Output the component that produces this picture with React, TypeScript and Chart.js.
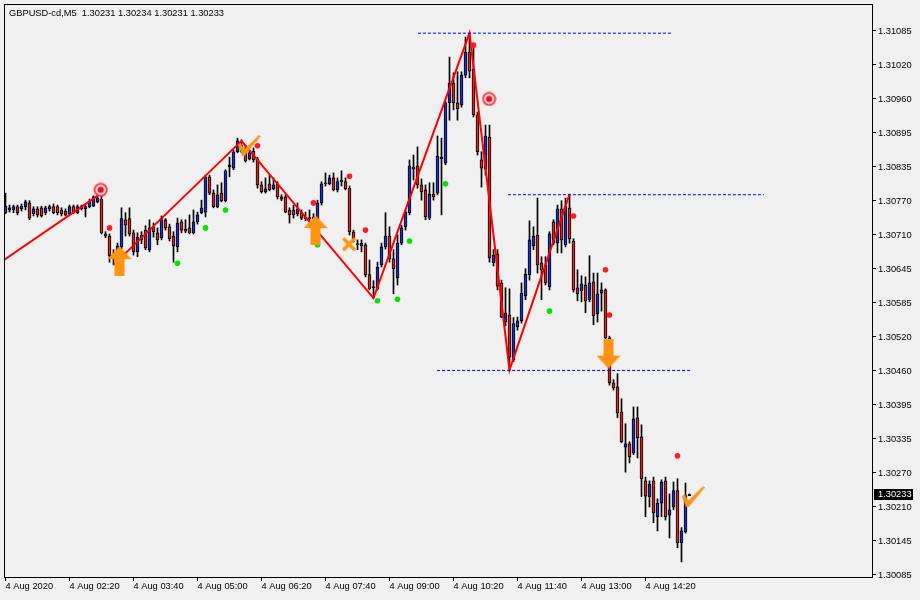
import React, { useEffect, useRef } from 'react';
import { Chart, registerables } from 'chart.js';

Chart.register(...registerables);

const symbolLabel = 'GBPUSD-cd,M5';

const xTickBars = [0, 16, 32, 48, 64, 80, 96, 112, 128, 144, 160];
const xTickLabels = ['4 Aug 2020', '4 Aug 02:20', '4 Aug 03:40', '4 Aug 05:00', '4 Aug 06:20', '4 Aug 07:40', '4 Aug 09:00', '4 Aug 10:20', '4 Aug 11:40', '4 Aug 13:00', '4 Aug 14:20'];
const yTickLabels = ['1.30085', '1.30145', '1.30210', '1.30270', '1.30335', '1.30395', '1.30460', '1.30520', '1.30585', '1.30645', '1.30710', '1.30770', '1.30835', '1.30895', '1.30960', '1.31020', '1.31085'];

const opens = [
  1.30751, 1.30760, 1.30756, 1.30762, 1.30758, 1.30762, 1.30769, 1.30749, 1.30758, 1.30760, 1.30751, 1.30758,
  1.30762, 1.30762, 1.30756, 1.30754, 1.30749, 1.30762, 1.30751, 1.30762, 1.30758, 1.30762, 1.30763, 1.30771,
  1.30776, 1.30712, 1.30708, 1.30672, 1.30679, 1.30688, 1.30738, 1.30740, 1.30714, 1.30679, 1.30701, 1.30719,
  1.30683, 1.30725, 1.30714, 1.30705, 1.30738, 1.30725, 1.30708, 1.30688, 1.30734, 1.30721, 1.30723, 1.30714,
  1.30734, 1.30751, 1.30752, 1.30817, 1.30787, 1.30762, 1.30787, 1.30773, 1.30835, 1.30833, 1.30863, 1.30875,
  1.30866, 1.30850, 1.30864, 1.30850, 1.30802, 1.30789, 1.30804, 1.30795, 1.30804, 1.30780, 1.30780, 1.30756,
  1.30756, 1.30749, 1.30751, 1.30740, 1.30741, 1.30734, 1.30734, 1.30769, 1.30804, 1.30804, 1.30815, 1.30793,
  1.30808, 1.30808, 1.30796, 1.30716, 1.30694, 1.30690, 1.30692, 1.30637, 1.30613, 1.30611, 1.30655, 1.30688,
  1.30708, 1.30666, 1.30631, 1.30695, 1.30725, 1.30751, 1.30835, 1.30837, 1.30802, 1.30793, 1.30741, 1.30785,
  1.30787, 1.30853, 1.30842, 1.30953, 1.30989, 1.30953, 1.30949, 1.31004, 1.31046, 1.31015, 1.30931, 1.30848,
  1.30831, 1.30890, 1.30659, 1.30675, 1.30622, 1.30550, 1.30563, 1.30480, 1.30541, 1.30552, 1.30598, 1.30637,
  1.30690, 1.30710, 1.30659, 1.30655, 1.30615, 1.30734, 1.30695, 1.30758, 1.30692, 1.30760, 1.30699, 1.30613,
  1.30607, 1.30618, 1.30591, 1.30624, 1.30565, 1.30603, 1.30609, 1.30521, 1.30438, 1.30431, 1.30385, 1.30320,
  1.30326, 1.30309, 1.30374, 1.30339, 1.30258, 1.30229, 1.30258, 1.30192, 1.30217, 1.30258, 1.30195, 1.30210,
  1.30240, 1.30144, 1.30164, 1.30231,
];
const highs = [
  1.30787, 1.30765, 1.30765, 1.30765, 1.30767, 1.30774, 1.30773, 1.30762, 1.30762, 1.30763, 1.30763, 1.30765,
  1.30767, 1.30765, 1.30760, 1.30758, 1.30765, 1.30765, 1.30765, 1.30765, 1.30765, 1.30776, 1.30782, 1.30784,
  1.30787, 1.30716, 1.30712, 1.30683, 1.30695, 1.30760, 1.30751, 1.30760, 1.30719, 1.30714, 1.30716, 1.30727,
  1.30738, 1.30732, 1.30723, 1.30745, 1.30740, 1.30730, 1.30716, 1.30741, 1.30738, 1.30738, 1.30747, 1.30756,
  1.30752, 1.30774, 1.30820, 1.30820, 1.30793, 1.30802, 1.30806, 1.30830, 1.30853, 1.30866, 1.30888, 1.30885,
  1.30875, 1.30866, 1.30870, 1.30853, 1.30808, 1.30815, 1.30820, 1.30815, 1.30808, 1.30784, 1.30784, 1.30760,
  1.30765, 1.30769, 1.30756, 1.30752, 1.30756, 1.30749, 1.30774, 1.30808, 1.30824, 1.30820, 1.30824, 1.30815,
  1.30828, 1.30815, 1.30800, 1.30719, 1.30701, 1.30701, 1.30695, 1.30664, 1.30626, 1.30660, 1.30695, 1.30751,
  1.30725, 1.30683, 1.30710, 1.30728, 1.30756, 1.30848, 1.30857, 1.30872, 1.30813, 1.30802, 1.30806, 1.30806,
  1.30892, 1.30888, 1.30956, 1.31037, 1.31008, 1.31010, 1.31010, 1.31074, 1.31081, 1.31059, 1.30936, 1.30863,
  1.30912, 1.30912, 1.30683, 1.30683, 1.30627, 1.30613, 1.30611, 1.30558, 1.30559, 1.30622, 1.30648, 1.30736,
  1.30725, 1.30778, 1.30670, 1.30670, 1.30716, 1.30738, 1.30765, 1.30773, 1.30778, 1.30785, 1.30703, 1.30646,
  1.30635, 1.30633, 1.30672, 1.30640, 1.30640, 1.30622, 1.30611, 1.30524, 1.30444, 1.30455, 1.30409, 1.30363,
  1.30330, 1.30394, 1.30394, 1.30361, 1.30265, 1.30258, 1.30265, 1.30225, 1.30260, 1.30265, 1.30234, 1.30256,
  1.30262, 1.30172, 1.30254, 1.30234,
];
const lows = [
  1.30749, 1.30752, 1.30751, 1.30747, 1.30754, 1.30756, 1.30738, 1.30745, 1.30743, 1.30743, 1.30747, 1.30754,
  1.30749, 1.30747, 1.30745, 1.30745, 1.30747, 1.30749, 1.30749, 1.30756, 1.30743, 1.30760, 1.30762, 1.30769,
  1.30712, 1.30705, 1.30660, 1.30655, 1.30668, 1.30684, 1.30708, 1.30708, 1.30673, 1.30670, 1.30694, 1.30683,
  1.30679, 1.30706, 1.30692, 1.30701, 1.30719, 1.30699, 1.30660, 1.30679, 1.30714, 1.30714, 1.30712, 1.30712,
  1.30730, 1.30749, 1.30743, 1.30784, 1.30760, 1.30760, 1.30771, 1.30771, 1.30817, 1.30830, 1.30861, 1.30861,
  1.30844, 1.30848, 1.30844, 1.30796, 1.30787, 1.30787, 1.30791, 1.30793, 1.30776, 1.30773, 1.30751, 1.30732,
  1.30741, 1.30745, 1.30738, 1.30736, 1.30734, 1.30727, 1.30694, 1.30765, 1.30800, 1.30802, 1.30791, 1.30789,
  1.30800, 1.30793, 1.30710, 1.30697, 1.30683, 1.30679, 1.30633, 1.30609, 1.30594, 1.30609, 1.30651, 1.30684,
  1.30660, 1.30602, 1.30618, 1.30692, 1.30719, 1.30747, 1.30811, 1.30796, 1.30774, 1.30738, 1.30738, 1.30774,
  1.30784, 1.30747, 1.30839, 1.30921, 1.30940, 1.30921, 1.30945, 1.30999, 1.30999, 1.30927, 1.30857, 1.30798,
  1.30820, 1.30660, 1.30653, 1.30609, 1.30558, 1.30543, 1.30462, 1.30477, 1.30535, 1.30548, 1.30591, 1.30627,
  1.30683, 1.30640, 1.30591, 1.30618, 1.30609, 1.30692, 1.30677, 1.30677, 1.30688, 1.30695, 1.30605, 1.30589,
  1.30587, 1.30567, 1.30587, 1.30545, 1.30550, 1.30570, 1.30517, 1.30434, 1.30425, 1.30374, 1.30328, 1.30274,
  1.30291, 1.30306, 1.30300, 1.30229, 1.30192, 1.30210, 1.30181, 1.30166, 1.30192, 1.30186, 1.30153, 1.30205,
  1.30135, 1.30109, 1.30162, 1.30231,
];
const closes = [
  1.30763, 1.30756, 1.30762, 1.30751, 1.30763, 1.30771, 1.30741, 1.30758, 1.30747, 1.30745, 1.30760, 1.30762,
  1.30751, 1.30751, 1.30749, 1.30747, 1.30762, 1.30751, 1.30762, 1.30758, 1.30762, 1.30771, 1.30780, 1.30778,
  1.30714, 1.30708, 1.30672, 1.30668, 1.30690, 1.30740, 1.30728, 1.30712, 1.30679, 1.30706, 1.30710, 1.30686,
  1.30723, 1.30716, 1.30701, 1.30741, 1.30723, 1.30703, 1.30690, 1.30732, 1.30719, 1.30717, 1.30714, 1.30734,
  1.30747, 1.30760, 1.30817, 1.30787, 1.30762, 1.30784, 1.30773, 1.30828, 1.30839, 1.30863, 1.30883, 1.30863,
  1.30846, 1.30861, 1.30848, 1.30802, 1.30789, 1.30795, 1.30793, 1.30802, 1.30780, 1.30776, 1.30752, 1.30747,
  1.30747, 1.30758, 1.30741, 1.30743, 1.30740, 1.30743, 1.30769, 1.30804, 1.30806, 1.30815, 1.30793, 1.30808,
  1.30811, 1.30795, 1.30716, 1.30703, 1.30692, 1.30695, 1.30637, 1.30611, 1.30615, 1.30651, 1.30688, 1.30708,
  1.30666, 1.30648, 1.30695, 1.30723, 1.30752, 1.30837, 1.30831, 1.30802, 1.30789, 1.30743, 1.30785, 1.30780,
  1.30855, 1.30850, 1.30953, 1.30989, 1.30953, 1.30942, 1.31004, 1.31046, 1.31011, 1.30931, 1.30863, 1.30833,
  1.30892, 1.30668, 1.30673, 1.30616, 1.30559, 1.30567, 1.30486, 1.30547, 1.30552, 1.30603, 1.30638, 1.30701,
  1.30708, 1.30655, 1.30646, 1.30622, 1.30712, 1.30695, 1.30758, 1.30701, 1.30762, 1.30703, 1.30609, 1.30602,
  1.30620, 1.30589, 1.30622, 1.30561, 1.30602, 1.30609, 1.30521, 1.30438, 1.30429, 1.30383, 1.30330, 1.30326,
  1.30302, 1.30372, 1.30337, 1.30262, 1.30230, 1.30252, 1.30199, 1.30217, 1.30256, 1.30192, 1.30205, 1.30240,
  1.30144, 1.30166, 1.30231, 1.30233,
];

const zigzagBars = [-0.375, 24, 25.5, 27, 59, 92, 116, 126, 141];
const zigzagPrices = [1.30664, 1.30787, null, 1.30655, 1.30883, 1.30594, 1.31081, 1.30462, 1.30785];

const levelPrices = [1.31081, 1.30784, 1.30461];
const levelFrom = [103.1, 125.6, 107.9];
const levelTo = [166.6, 189.6, 171.6];

const redDotBars = [26, 63, 77, 86, 90, 117, 142, 150, 151, 168];
const redDotPrices = [1.30723, 1.30874, 1.30769, 1.30818, 1.30719, 1.31059, 1.30745, 1.30646, 1.30563, 1.30304];
const greenDotBars = [43, 50, 55, 78, 93, 98, 101, 110, 136];
const greenDotPrices = [1.30658, 1.30723, 1.30756, 1.30692, 1.30589, 1.30592, 1.30699, 1.30804, 1.30570];

const upArrowBars = [28.5, 77.5];
const upArrowPrices = [1.30662, 1.30719];
const downArrowBars = [150.75];
const downArrowPrices = [1.30492];
const checkBars = [60.9, 171.9];
const checkPrices = [1.30875, 1.30229];
const crossBars = [85.9];
const crossPrices = [1.30693];
const targetBars = [23.8, 120.9];
const targetPrices = [1.30793, 1.30960];

const BG = '#f0f0f0';
const BULL = '#2230c4';
const BEAR = '#d42a20';
const ORANGE = '#ff9410';
const FONT = '"Liberation Sans", Arial, sans-serif';

function makeIcon(w: number, h: number, draw: (ctx: CanvasRenderingContext2D) => void) {
  const c = document.createElement('canvas');
  c.width = w;
  c.height = h;
  const ctx = c.getContext('2d') as CanvasRenderingContext2D;
  draw(ctx);
  return c;
}

function pts(xs: number[], ys: (number | null)[]) {
  return xs.map((x, k) => ({ x, y: ys[k] }));
}

export default function App() {
  const ref = useRef<HTMLCanvasElement | null>(null);

  useEffect(() => {
    const canvas = ref.current;
    if (!canvas) return;

    const upArrow = makeIcon(24, 30, (ctx) => {
      ctx.fillStyle = ORANGE;
      ctx.beginPath();
      ctx.moveTo(12, 0);
      ctx.lineTo(24, 13);
      ctx.lineTo(17, 13);
      ctx.lineTo(17, 30);
      ctx.lineTo(7, 30);
      ctx.lineTo(7, 13);
      ctx.lineTo(0, 13);
      ctx.closePath();
      ctx.fill();
    });
    const downArrow = makeIcon(24, 30, (ctx) => {
      ctx.fillStyle = ORANGE;
      ctx.beginPath();
      ctx.moveTo(12, 30);
      ctx.lineTo(24, 17);
      ctx.lineTo(17, 17);
      ctx.lineTo(17, 0);
      ctx.lineTo(7, 0);
      ctx.lineTo(7, 17);
      ctx.lineTo(0, 17);
      ctx.closePath();
      ctx.fill();
    });
    const check = makeIcon(23, 21, (ctx) => {
      ctx.fillStyle = '#f7941d';
      ctx.beginPath();
      ctx.moveTo(0, 10);
      ctx.lineTo(3.5, 8.5);
      ctx.lineTo(6.5, 14.5);
      ctx.lineTo(21.5, 0);
      ctx.lineTo(23, 1.5);
      ctx.lineTo(7, 21);
      ctx.lineTo(4.5, 21);
      ctx.closePath();
      ctx.fill();
    });
    const cross = makeIcon(16, 16, (ctx) => {
      ctx.strokeStyle = ORANGE;
      ctx.lineWidth = 3.5;
      ctx.lineCap = 'round';
      ctx.beginPath();
      ctx.moveTo(3, 3);
      ctx.lineTo(13, 13);
      ctx.moveTo(13, 3);
      ctx.lineTo(3, 13);
      ctx.stroke();
    });
    const target = makeIcon(15, 15, (ctx) => {
      ctx.fillStyle = '#ff3348';
      ctx.beginPath();
      ctx.arc(7.5, 7.5, 7, 0, Math.PI * 2);
      ctx.fill();
      ctx.fillStyle = '#ffffff';
      ctx.beginPath();
      ctx.arc(7.5, 7.5, 5, 0, Math.PI * 2);
      ctx.fill();
      ctx.fillStyle = '#e8101a';
      ctx.beginPath();
      ctx.arc(7.5, 7.5, 3.2, 0, Math.PI * 2);
      ctx.fill();
    });

    const idx = opens.map((_, i) => i);
    const last = opens.length - 1;
    const f5 = (v: number) => v.toFixed(5);
    const header = `${symbolLabel}  ${f5(opens[last])} ${f5(highs[last])} ${f5(lows[last])} ${f5(closes[last])}`;

    const yTickValues = yTickLabels.map((_, k) => 1.30085 + k * 0.000625);

    const levelData: { x: number; y: number | null }[] = [];
    levelPrices.forEach((p, k) => {
      levelData.push({ x: levelFrom[k], y: p });
      levelData.push({ x: levelTo[k], y: p });
      levelData.push({ x: levelTo[k] + 0.1, y: null });
    });

    const mt4Plugin = {
      id: 'mt4look',
      beforeDraw(chart: any) {
        const { ctx, width, height } = chart;
        ctx.save();
        ctx.fillStyle = BG;
        ctx.fillRect(0, 0, width, height);
        ctx.restore();
      },
      afterDraw(chart: any) {
        const { ctx, chartArea: a, scales } = chart;
        ctx.save();
        ctx.strokeStyle = '#000';
        ctx.lineWidth = 1;
        ctx.strokeRect(a.left + 0.5, a.top + 0.5, a.right - a.left, a.bottom - a.top);
        ctx.font = `9.3px ${FONT}`;
        ctx.fillStyle = '#000';
        ctx.textAlign = 'left';
        ctx.textBaseline = 'alphabetic';
        ctx.fillText(header, 9, 16);
        const lc = closes[last];
        const y = Math.round(scales.y.getPixelForValue(lc));
        ctx.fillStyle = '#000';
        ctx.fillRect(a.right + 2, y - 5, 39, 11);
        ctx.fillStyle = '#fff';
        ctx.textBaseline = 'middle';
        ctx.fillText(f5(lc), a.right + 6, y + 0.5);
        ctx.restore();
      },
    };

    const tickFont = { family: FONT, size: 9.3 };

    const chart = new Chart(canvas, {
      type: 'bar',
      data: {
        datasets: [
          {
            type: 'bar',
            label: 'wicks',
            data: idx.map((i) => ({ x: i, y: [lows[i], highs[i]] })) as any,
            backgroundColor: '#000',
            borderWidth: 0,
            barThickness: 1,
            grouped: false,
            order: 10,
          } as any,
          {
            type: 'bar',
            label: 'bodies',
            data: idx.map((i) => ({ x: i, y: [opens[i], closes[i]] })) as any,
            backgroundColor: idx.map((i) => (closes[i] >= opens[i] ? BULL : BEAR)),
            borderColor: '#000',
            borderWidth: 1,
            borderSkipped: false,
            barThickness: 3,
            minBarLength: 1,
            grouped: false,
            order: 9,
          } as any,
          {
            type: 'line',
            label: 'zigzag',
            data: pts(zigzagBars, zigzagPrices) as any,
            borderColor: '#ff0000',
            borderWidth: 2,
            pointRadius: 0,
            spanGaps: false,
            order: 6,
          } as any,
          {
            type: 'line',
            label: 'levels',
            data: levelData as any,
            borderColor: '#0000ff',
            borderWidth: 1,
            borderDash: [3, 2],
            pointRadius: 0,
            spanGaps: false,
            order: 5,
          } as any,
          {
            type: 'scatter',
            label: 'red dots',
            data: pts(redDotBars, redDotPrices) as any,
            pointRadius: 2.8,
            pointBackgroundColor: '#ff1a2a',
            pointBorderWidth: 0,
            order: 4,
          } as any,
          {
            type: 'scatter',
            label: 'green dots',
            data: pts(greenDotBars, greenDotPrices) as any,
            pointRadius: 2.8,
            pointBackgroundColor: '#00e400',
            pointBorderWidth: 0,
            order: 4,
          } as any,
          {
            type: 'scatter',
            label: 'targets',
            data: pts(targetBars, targetPrices) as any,
            pointStyle: target,
            pointRadius: 6,
            order: 3,
          } as any,
          {
            type: 'scatter',
            label: 'cross',
            data: pts(crossBars, crossPrices) as any,
            pointStyle: cross,
            pointRadius: 6,
            order: 2,
          } as any,
          {
            type: 'scatter',
            label: 'checks',
            data: pts(checkBars, checkPrices) as any,
            pointStyle: check,
            pointRadius: 6,
            order: 2,
          } as any,
          {
            type: 'scatter',
            label: 'up arrows',
            data: pts(upArrowBars, upArrowPrices) as any,
            pointStyle: upArrow,
            pointRadius: 6,
            order: 1,
          } as any,
          {
            type: 'scatter',
            label: 'down arrows',
            data: pts(downArrowBars, downArrowPrices) as any,
            pointStyle: downArrow,
            pointRadius: 6,
            order: 1,
          } as any,
        ],
      },
      options: {
        animation: false,
        responsive: false,
        maintainAspectRatio: false,
        events: [],
        layout: { autoPadding: false, padding: { left: 4, top: 4, right: 0, bottom: 0 } },
        plugins: {
          legend: { display: false },
          tooltip: { enabled: false },
          title: { display: false },
        },
        scales: {
          x: {
            type: 'linear',
            position: 'bottom',
            min: -0.375,
            max: 216.625,
            offset: false,
            grid: { drawOnChartArea: false, drawTicks: true, tickLength: 4, color: '#000', offset: false },
            border: { display: false },
            ticks: {
              align: 'start',
              padding: 0,
              autoSkip: false,
              maxRotation: 0,
              minRotation: 0,
              color: '#000',
              font: tickFont,
              callback: (_v: any, i: number) => xTickLabels[i],
            },
            afterBuildTicks: (s: any) => {
              s.ticks = xTickBars.map((v) => ({ value: v }));
            },
            afterFit: (s: any) => {
              s.height = 23;
              s.paddingLeft = 0;
              s.paddingRight = 0;
            },
          },
          y: {
            type: 'linear',
            position: 'right',
            min: 1.300813,
            max: 1.311346,
            beginAtZero: false,
            grid: { drawOnChartArea: false, drawTicks: true, tickLength: 4, color: '#000' },
            border: { display: false },
            ticks: {
              padding: 2,
              color: '#000',
              font: tickFont,
              autoSkip: false,
              callback: (_v: any, i: number) => yTickLabels[i],
            },
            afterBuildTicks: (s: any) => {
              s.ticks = yTickValues.map((v) => ({ value: v }));
            },
            afterFit: (s: any) => {
              s.width = 48;
              s.paddingTop = 0;
              s.paddingBottom = 0;
            },
          },
        },
      } as any,
      plugins: [mt4Plugin],
    });

    return () => chart.destroy();
  }, []);

  return (
    <div style={{ position: 'fixed', left: 0, top: 0, width: 920, height: 600, background: BG }}>
      <canvas ref={ref} width={920} height={600} style={{ display: 'block', width: 920, height: 600 }} />
    </div>
  );
}
